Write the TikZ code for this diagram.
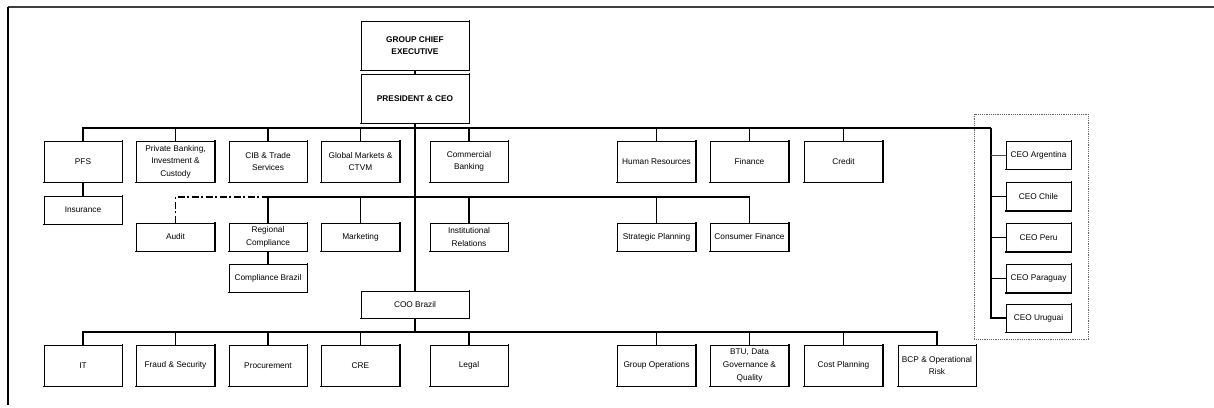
\documentclass[tikz,border=0pt]{standalone}
\usepackage{fontspec}
\setmainfont{Liberation Sans}
\begin{document}
\begin{tikzpicture}[x=1pt,y=-1pt,
  box/.style={draw=black, line width=0.9pt, fill=white, inner sep=0pt, align=center,
    font=\fontsize{8.3}{12.6}\selectfont, minimum width=78pt, minimum height=41pt},
  shortbox/.style={box, minimum height=28pt},
  ceobox/.style={box, minimum width=65pt, minimum height=28pt},
  bigbox/.style={box, minimum width=108pt, minimum height=49pt, font=\fontsize{8.3}{12.6}\selectfont\bfseries},
  conn/.style={draw=black, line width=1.3pt},
  dotline/.style={draw=black!60, line width=0.8pt, dash pattern=on 1.2pt off 1pt},
  dashdot/.style={draw=black, line width=1.3pt, dash pattern=on 7pt off 2.5pt on 2pt off 2.5pt}
]
\useasboundingbox (0,0) rectangle (1214,407);
% frame
\draw[line width=2pt, black!75] (8,7) -- (1214,7);
\draw[line width=1.4pt] (8,7) -- (8,405);
% dotted group
\draw[dotline] (974,114) rectangle (1088,339);

% coordinates
\coordinate (b1) at (415,128);
\coordinate (b1R) at (991,128);
\coordinate (b2) at (415,197);
\coordinate (b3) at (415,332);

% nodes
\node[bigbox] (gce) at (415,45.5) {GROUP CHIEF\\EXECUTIVE};
\node[bigbox] (pres) at (415,98.5) {PRESIDENT \& CEO};

\node[box] (pfs) at (83,161.5) {PFS};
\node[box] (pb) at (175.5,161.5) {Private Banking,\\Investment \&\\Custody};
\node[box] (cib) at (268,161.5) {CIB \& Trade\\Services};
\node[box] (gm) at (360.5,161.5) {Global Markets \&\\CTVM};
\node[box] (cb) at (469,161.5) {Commercial\\Banking};
\node[box] (hr) at (656.5,161.5) {Human Resources};
\node[box] (fin) at (749.5,161.5) {Finance};
\node[box] (cred) at (843.5,161.5) {Credit};

\node[shortbox] (ins) at (83,210) {Insurance};

\node[shortbox] (audit) at (175.5,237) {Audit};
\node[shortbox] (rc) at (268,237) {Regional\\Compliance};
\node[shortbox] (mkt) at (360.5,237) {Marketing};
\node[shortbox] (ir) at (469,237) {Institutional\\Relations};
\node[shortbox] (sp) at (656.5,237) {Strategic Planning};
\node[shortbox] (cf) at (749.5,237) {Consumer Finance};

\node[shortbox] (cbr) at (268,278) {Compliance Brazil};
\node[shortbox, minimum width=108pt, minimum height=27pt] (coo) at (415,304.5) {COO Brazil};

\node[box] (it) at (83,365.5) {IT};
\node[box] (fs) at (175.5,365.5) {Fraud \& Security};
\node[box] (proc) at (268,365.5) {Procurement};
\node[box] (cre) at (360.5,365.5) {CRE};
\node[box] (legal) at (469,365.5) {Legal};
\node[box] (go) at (656.5,365.5) {Group Operations};
\node[box] (btu) at (749.5,365.5) {BTU, Data\\Governance \&\\Quality};
\node[box] (cp) at (843.5,365.5) {Cost Planning};
\node[box] (bcp) at (937,365.5) {BCP \& Operational\\Risk};

\node[ceobox] (arg) at (1038.5,155) {CEO Argentina};
\node[ceobox] (chl) at (1038.5,196.5) {CEO Chile};
\node[ceobox] (per) at (1038.5,237.5) {CEO Peru};
\node[ceobox] (par) at (1038.5,278.5) {CEO Paraguay};
\node[ceobox] (uru) at (1038.5,318) {CEO Uruguai};

% heavier right/bottom edges
\foreach \n in {gce,pres,pfs,pb,cib,gm,cb,hr,fin,cred,ins,audit,rc,mkt,ir,sp,cf,cbr,coo,it,fs,proc,cre,legal,go,btu,cp,bcp,arg,chl,per,par,uru}
  \draw[line width=1.6pt, line cap=rect] (\n.north east) -- (\n.south east) -- (\n.south west);

% connectors
\draw[conn] (gce.south) -- (pres.north);
\draw[conn] (pres.south) -- (coo.north);
\draw[conn] (pfs.north) |- (b1R);
\foreach \n in {pb,cib,gm,cb,hr,fin,cred}
  \draw[conn] (\n.north) -- (\n.north |- b1);
\draw[conn] (pfs.south) -- (ins.north);

\draw[conn] (rc.north |- b2) -- (cf.north |- b2);
\foreach \n in {rc,mkt,ir,sp,cf}
  \draw[conn] (\n.north) -- (\n.north |- b2);
\draw[dashdot] (audit.north) |- (rc.north |- b2);
\draw[conn] (rc.south) -- (cbr.north);

\draw[conn] (coo.south) -- (b3);
\draw[conn] (it.north) |- (bcp.north |- b3) -- (bcp.north);
\foreach \n in {fs,proc,cre,legal,go,btu,cp}
  \draw[conn] (\n.north) -- (\n.north |- b3);

\draw[conn] (b1R) |- (uru.west);
\draw[line width=0.8pt, black!70] (b1R |- arg.west) -- (arg.west);
\foreach \n in {chl,per,par}
  \draw[conn] (b1R |- \n.west) -- (\n.west);
\end{tikzpicture}
\end{document}
